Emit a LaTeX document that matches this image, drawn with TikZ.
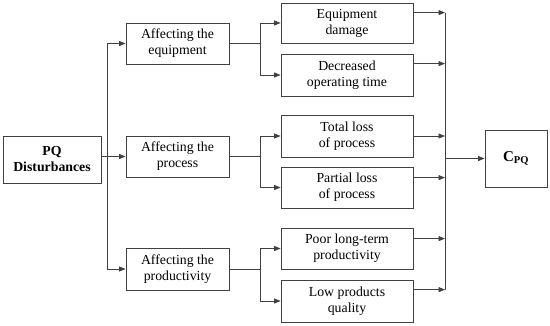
\documentclass[tikz,border=0pt]{standalone}
\usepackage{fontspec}
\setmainfont{Liberation Serif}
\usetikzlibrary{arrows.meta,calc}
\begin{document}
\begin{tikzpicture}[x=1pt,y=-1pt,
  box/.style={draw=black!75,line width=0.8pt,align=center,inner sep=0pt,
    font=\fontsize{13.8}{16}\selectfont},
  conn/.style={draw=black!75,line width=0.8pt},
  arr/.style={conn,-{Triangle[length=6.5pt,width=5pt]}}]
\useasboundingbox (0,0) rectangle (550,325);
\node[box,minimum width=98pt,minimum height=47pt,font=\fontsize{13.8}{16}\selectfont\bfseries] (pq) at (52,159.5) {PQ\\Disturbances};
\node[box,minimum width=103pt,minimum height=41pt] (a1) at (177.5,43.5) {Affecting the\\equipment};
\node[box,minimum width=103pt,minimum height=41pt] (a2) at (177.5,156.5) {Affecting the\\process};
\node[box,minimum width=103pt,minimum height=42pt] (a3) at (177.5,269) {Affecting the\\productivity};
\node[box,minimum width=132pt,minimum height=40pt] (b1) at (347,23) {Equipment\\damage};
\node[box,minimum width=132pt,minimum height=42pt] (b2) at (347,75) {Decreased\\operating time};
\node[box,minimum width=132pt,minimum height=42pt] (b3) at (347,136) {Total loss\\of process};
\node[box,minimum width=132pt,minimum height=41pt] (b4) at (347,187.5) {Partial loss\\of process};
\node[box,minimum width=132pt,minimum height=41pt] (b5) at (347,248.5) {Poor long-term\\productivity};
\node[box,minimum width=132pt,minimum height=42pt] (b6) at (347,301) {Low products\\quality};
\node[box,minimum width=62pt,minimum height=57pt,font=\fontsize{15}{17}\selectfont\bfseries] (c) at (516,158.5) {C\textsubscript{PQ}};
\coordinate (J) at (107,0);
\coordinate (K) at (260,0);
\coordinate (R) at (445,0);
% PQ to level 1
\draw[arr] (pq.east |- a2.west) -- (a2.west);
\draw[conn] (J |- a1.west) -- (J |- a3.west);
\draw[arr] (J |- a1.west) -- (a1.west);
\draw[arr] (J |- a3.west) -- (a3.west);
% level 1 to level 2
\draw[conn] (a1.east) -- (K |- a1.east);
\draw[conn] (K |- b1.west) -- (K |- b2.west);
\draw[arr] (K |- b1.west) -- (b1.west);
\draw[arr] (K |- b2.west) -- (b2.west);
\draw[conn] (a2.east) -- (K |- a2.east);
\draw[conn] (K |- b3.west) -- (K |- b4.west);
\draw[arr] (K |- b3.west) -- (b3.west);
\draw[arr] (K |- b4.west) -- (b4.west);
\draw[conn] (a3.east) -- (K |- a3.east);
\draw[conn] (K |- b5.west) -- (K |- b6.west);
\draw[arr] (K |- b5.west) -- (b5.west);
\draw[arr] (K |- b6.west) -- (b6.west);
% level 2 to collector
\coordinate (e1) at ([yshift=-10pt]b1.north east);
\coordinate (e2) at ([yshift=-10pt]b2.north east);
\coordinate (e3) at (b3.east);
\coordinate (e4) at ([yshift=-11pt]b4.north east);
\coordinate (e5) at ([yshift=-11pt]b5.north east);
\coordinate (e6) at ([yshift=-10pt]b6.north east);
\draw[conn] (R |- e1) -- (R |- e6);
\foreach \e in {e1,e2,e3,e4,e5,e6} \draw[arr] (\e) -- (R |- \e);
\draw[arr] (R |- c.west) -- (c.west);
\end{tikzpicture}
\end{document}
